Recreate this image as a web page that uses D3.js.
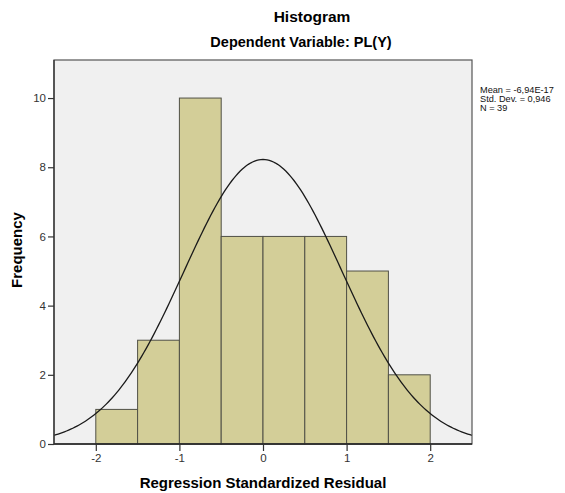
<!DOCTYPE html>
<html><head><meta charset="utf-8">
<script src="https://cdn.jsdelivr.net/npm/d3@7"></script>
<style>body{margin:0;background:#fff}svg{display:block}text{font-family:"Liberation Sans",Arial,sans-serif}</style>
</head><body><svg id="c" width="565" height="493"></svg>
<script>
const binStarts = [-2, -1.5, -1, -0.5, 0, 0.5, 1, 1.5];
const binWidth = 0.5;
const counts = [1, 3, 10, 6, 6, 6, 5, 2];
const xTicks = [-2, -1, 0, 1, 2];
const yTicks = [0, 2, 4, 6, 8, 10];
const stats = {mean: -6.94e-17, sd: 0.946, n: 39};
const legendLines = ["Mean = -6,94E-17", "Std. Dev. = 0,946", "N = 39"];

const svg = d3.select("#c");
const L = 54, R = 472, T = 60, B = 444;
const x = d3.scaleLinear().domain([-2.5, 2.5]).range([L, R]);
const y = d3.scaleLinear().domain([0, 11.1]).range([B, T]);

svg.append("rect").attr("x", L).attr("y", T).attr("width", R - L).attr("height", B - T).attr("fill", "#f0f0f0");

svg.selectAll("rect.bar").data(binStarts).enter().append("rect").attr("class", "bar")
  .attr("x", d => x(d)).attr("y", (d, i) => y(counts[i]))
  .attr("width", d => x(d + binWidth) - x(d)).attr("height", (d, i) => y(0) - y(counts[i]))
  .attr("fill", "#d3ce98").attr("stroke", "#505046").attr("stroke-width", 1);

// normal curve from the reported stats
const pts = d3.range(0, 201).map(i => {
  const v = -2.5 + i * 5 / 200;
  const z = (v - stats.mean) / stats.sd;
  return [v, stats.n * binWidth * Math.exp(-0.5 * z * z) / (stats.sd * Math.sqrt(2 * Math.PI))];
});
svg.append("path").datum(pts).attr("fill", "none").attr("stroke", "#1a1a1a").attr("stroke-width", 1.3)
  .attr("d", d3.line().x(d => x(d[0])).y(d => y(d[1])));

// frame
svg.append("rect").attr("x", L).attr("y", T).attr("width", R - L).attr("height", B - T)
  .attr("fill", "none").attr("stroke", "#555").attr("stroke-width", 1.2);
svg.append("line").attr("x1", L).attr("x2", R).attr("y1", B).attr("y2", B).attr("stroke", "#222").attr("stroke-width", 1.5);
svg.append("line").attr("x1", L).attr("x2", L).attr("y1", T).attr("y2", B).attr("stroke", "#333").attr("stroke-width", 1.3);

const xa = svg.append("g").attr("transform", `translate(0,${B})`)
  .call(d3.axisBottom(x).tickValues(xTicks).tickSize(7).tickPadding(3).tickFormat(d => String(d)));
xa.select(".domain").remove();
const ya = svg.append("g").attr("transform", `translate(${L},0)`)
  .call(d3.axisLeft(y).tickValues(yTicks).tickSize(6).tickPadding(2).tickFormat(d => String(d)));
ya.select(".domain").remove();
svg.selectAll(".tick line").attr("stroke", "#333").attr("stroke-width", 1.2);
svg.selectAll(".tick text").attr("font-size", 11.5).attr("fill", "#333").attr("font-family", "Liberation Sans, Arial, sans-serif");

svg.append("text").attr("x", 312).attr("y", 22).attr("text-anchor", "middle").attr("font-size", 15.5).attr("font-weight", "bold").text("Histogram");
svg.append("text").attr("x", 301).attr("y", 46.5).attr("text-anchor", "middle").attr("font-size", 14.5).attr("font-weight", "bold").text("Dependent Variable: PL(Y)");
svg.append("text").attr("x", 263).attr("y", 488).attr("text-anchor", "middle").attr("font-size", 15).attr("font-weight", "bold").text("Regression Standardized Residual");
svg.append("text").attr("transform", "translate(22,250) rotate(-90)").attr("text-anchor", "middle").attr("font-size", 15).attr("font-weight", "bold").text("Frequency");

svg.selectAll("text.leg").data(legendLines).enter().append("text").attr("class", "leg")
  .attr("x", 480).attr("y", (d, i) => 93 + i * 9).attr("font-size", 9.2).attr("fill", "#111").text(d => d);
</script></body></html>
